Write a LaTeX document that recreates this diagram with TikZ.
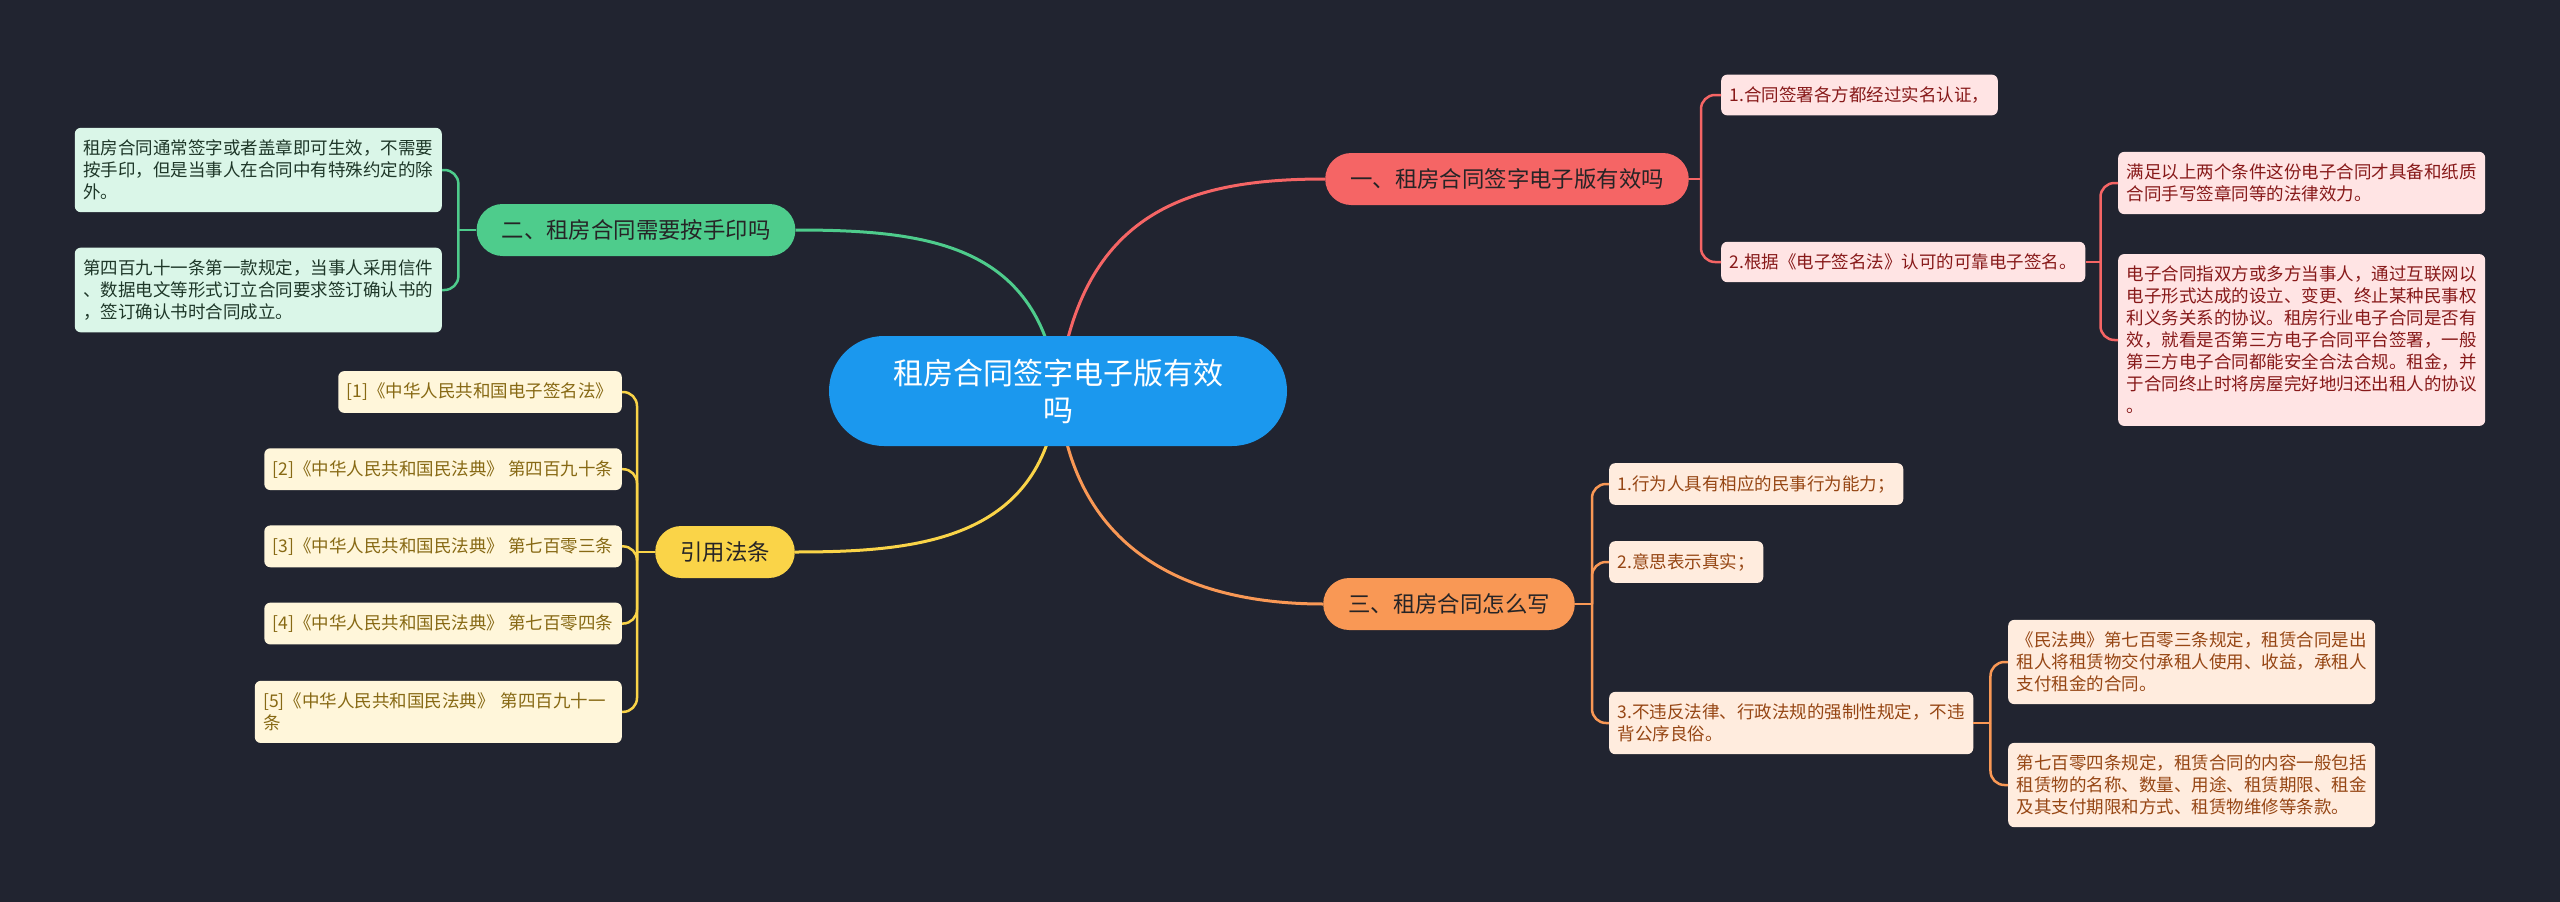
\documentclass[tikz,border=0pt]{standalone}
\usepackage{fontspec}
\setmainfont{Noto Sans CJK SC}
\usetikzlibrary{positioning,backgrounds}

\definecolor{bgdark}{RGB}{33,36,48}
\definecolor{rootblue}{RGB}{27,152,238}
\definecolor{topictext}{RGB}{38,36,38}
\definecolor{redtopic}{RGB}{245,101,101}
\definecolor{redleaf}{RGB}{255,228,228}
\definecolor{redtext}{RGB}{135,25,25}
\definecolor{greentopic}{RGB}{78,204,140}
\definecolor{greenleaf}{RGB}{218,246,232}
\definecolor{greentext}{RGB}{30,55,40}
\definecolor{yellowtopic}{RGB}{250,212,72}
\definecolor{yellowleaf}{RGB}{255,246,218}
\definecolor{yellowtext}{RGB}{135,105,20}
\definecolor{orangetopic}{RGB}{249,152,85}
\definecolor{orangeleaf}{RGB}{255,236,222}
\definecolor{orangetext}{RGB}{150,70,20}

\begin{document}
\begin{tikzpicture}[
      x=1pt, y=-1pt,
      root/.style={fill=rootblue, text=white, rounded corners=55pt, minimum height=110pt,
                   inner xsep=64pt, align=center, font=\fontsize{30}{37}\selectfont},
      topic/.style={rounded corners=26pt, minimum height=52pt, inner xsep=25pt,
                    text=topictext, font=\fontsize{22.4}{27}\selectfont},
      leaf/.style={rounded corners=6pt, inner xsep=8.5pt, inner ysep=12pt, align=left,
                   font=\fontsize{17.5}{22}\selectfont},
      rleaf/.style={leaf, fill=redleaf, text=redtext},
      gleaf/.style={leaf, fill=greenleaf, text=greentext},
      yleaf/.style={leaf, fill=yellowleaf, text=yellowtext},
      oleaf/.style={leaf, fill=orangeleaf, text=orangetext},
      trunk/.style={line width=3pt},
      link/.style={line width=2.5pt, rounded corners=14pt}]
    \node[root] (root) at (1058,391) {租房合同签字电子版有效\\吗};
    \node[topic, fill=redtopic] (sign) at (1507,179) {一、租房合同签字电子版有效吗};
    \node[topic, fill=greentopic] (print) at (636,230) {二、租房合同需要按手印吗};
    \node[topic, fill=yellowtopic] (law) at (725,552) {引用法条};
    \node[topic, fill=orangetopic] (write) at (1449,604) {三、租房合同怎么写};
    % red branch
    \node[rleaf, anchor=west] (sign1) at (1721,95) {1.合同签署各方都经过实名认证，};
    \node[rleaf, anchor=west] (sign2) at (1721,262) {2.根据《电子签名法》认可的可靠电子签名。};
    \node[rleaf, anchor=west] (sign2a) at (2118,183) {满足以上两个条件这份电子合同才具备和纸质\\合同手写签章同等的法律效力。};
    \node[rleaf, anchor=west] (sign2b) at (2118,340) {电子合同指双方或多方当事人，通过互联网以\\电子形式达成的设立、变更、终止某种民事权\\利义务关系的协议。租房行业电子合同是否有\\效，就看是否第三方电子合同平台签署，一般\\第三方电子合同都能安全合法合规。租金，并\\于合同终止时将房屋完好地归还出租人的协议\\。};
    % green branch
    \node[gleaf, anchor=east] (print1) at (442,170) {租房合同通常签字或者盖章即可生效，不需要\\按手印，但是当事人在合同中有特殊约定的除\\外。};
    \node[gleaf, anchor=east] (print2) at (442,290) {第四百九十一条第一款规定，当事人采用信件\\、数据电文等形式订立合同要求签订确认书的\\，签订确认书时合同成立。};
    % yellow branch
    \node[yleaf, anchor=east] (law1) at (622,392) {[1]《中华人民共和国电子签名法》};
    \node[yleaf, below left=35pt and 0pt of law1.south east] (law2) {[2]《中华人民共和国民法典》 第四百九十条};
    \node[yleaf, below left=35pt and 0pt of law2.south east] (law3) {[3]《中华人民共和国民法典》 第七百零三条};
    \node[yleaf, below left=35pt and 0pt of law3.south east] (law4) {[4]《中华人民共和国民法典》 第七百零四条};
    \node[yleaf, text width=350pt, below left=36pt and 0pt of law4.south east] (law5) {[5]《中华人民共和国民法典》 第四百九十一\\条};
    % orange branch
    \node[oleaf, anchor=west] (write1) at (1609,484) {1.行为人具有相应的民事行为能力；};
    \node[oleaf, anchor=west] (write2) at (1609,562) {2.意思表示真实；};
    \node[oleaf, anchor=west] (write3) at (1609,723) {3.不违反法律、行政法规的强制性规定，不违\\背公序良俗。};
    \node[oleaf, anchor=west] (write3a) at (2008,662) {《民法典》第七百零三条规定，租赁合同是出\\租人将租赁物交付承租人使用、收益，承租人\\支付租金的合同。};
    \node[oleaf, anchor=west] (write3b) at (2008,785) {第七百零四条规定，租赁合同的内容一般包括\\租赁物的名称、数量、用途、租赁期限、租金\\及其支付期限和方式、租赁物维修等条款。};
    \begin{scope}[on background layer]
      \fill[bgdark] (0,0) rectangle (2560,902);
      \draw[trunk, redtopic] (root.center) .. controls (1080,210) and (1190,179) .. (sign.west);
      \draw[trunk, greentopic] (root.center) .. controls (1040,245) and (930,230) .. (print.east);
      \draw[trunk, yellowtopic] (root.center) .. controls (1045,540) and (920,552) .. (law.east);
      \draw[trunk, orangetopic] (root.center) .. controls (1072,560) and (1200,604) .. (write.west);
    \end{scope}
    \draw[link, redtopic] (sign.east) -- ++(12,0) coordinate (signj);
    \foreach \n in {sign1,sign2} \draw[link, redtopic] (signj) |- (\n.west);
    \draw[link, redtopic] (sign2.east) -- ++(15,0) coordinate (sign2j);
    \foreach \n in {sign2a,sign2b} \draw[link, redtopic] (sign2j) |- (\n.west);
    \draw[link, greentopic] (print.west) -- ++(-18,0) coordinate (printj);
    \foreach \n in {print1,print2} \draw[link, greentopic] (printj) |- (\n.east);
    \draw[link, yellowtopic] (law.west) -- ++(-18,0) coordinate (lawj);
    \foreach \n in {law1,law2,law3,law4,law5} \draw[link, yellowtopic] (lawj) |- (\n.east);
    \draw[link, orangetopic] (write.east) -- ++(17,0) coordinate (writej);
    \foreach \n in {write1,write2,write3} \draw[link, orangetopic] (writej) |- (\n.west);
    \draw[link, orangetopic] (write3.east) -- ++(17,0) coordinate (write3j);
    \foreach \n in {write3a,write3b} \draw[link, orangetopic] (write3j) |- (\n.west);
  \end{tikzpicture}
\end{document}
